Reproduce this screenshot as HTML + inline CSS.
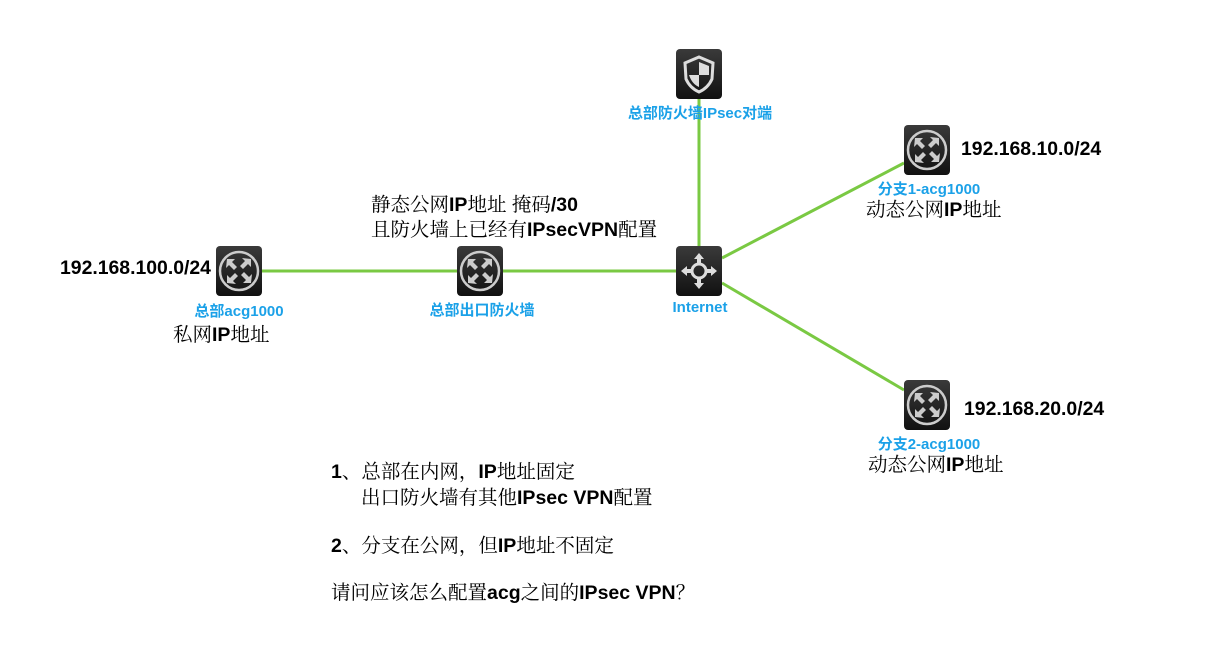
<!DOCTYPE html>
<html><head><meta charset="utf-8"><style>
body{margin:0;width:1213px;height:659px;background:#fff;position:relative;overflow:hidden;font-family:"Liberation Sans","Noto Serif CJK SC",serif;}
.t{position:absolute;font-size:19.5px;color:#000;white-space:nowrap;line-height:20px;}
.t b{font-family:"Liberation Sans",sans-serif;font-weight:bold;}
.ip{position:absolute;font-family:"Liberation Sans",sans-serif;font-weight:bold;font-size:19.4px;white-space:nowrap;}
.bl{position:absolute;color:#1ba1e8;font-weight:bold;font-size:15px;font-family:"Liberation Sans","Noto Sans CJK SC",sans-serif;white-space:nowrap;transform:translateX(-50%);}
.ic{position:absolute;width:46px;height:50px;border-radius:4px;background:linear-gradient(#3a3a3a,#111);}
</style></head><body>
<svg width="1213" height="659" style="position:absolute;left:0;top:0">
<g stroke="#7ac943" stroke-width="3" fill="none">
<line x1="262" y1="271" x2="676" y2="271"/>
<line x1="699" y1="99" x2="699" y2="246"/>
<line x1="722" y1="258" x2="904" y2="163"/>
<line x1="722" y1="283" x2="904" y2="390"/>
</g>
</svg>
<div class="ic" style="left:216px;top:246px"></div>
<div class="ic" style="left:457px;top:246px"></div>
<div class="ic" style="left:676px;top:246px"></div>
<div class="ic" style="left:676px;top:49px"></div>
<div class="ic" style="left:904px;top:125px"></div>
<div class="ic" style="left:904px;top:380px"></div>
<svg width="1213" height="659" style="position:absolute;left:0;top:0">
<defs><g id="sw"><circle cx="0" cy="0" r="19" fill="none" stroke="#ccc" stroke-width="2.5"/>
<g fill="#ccc"><path d="M-12,-12 l8,0 l-3,3 l5,5 l-3,3 l-5,-5 l-3,3z"/><path d="M12,-12 l0,8 l-3,-3 l-5,5 l-3,-3 l5,-5 l-3,-3z"/><path d="M-12,12 l0,-8 l3,3 l5,-5 l3,3 l-5,5 l3,3z"/><path d="M12,12 l-8,0 l3,-3 l-5,-5 l3,-3 l5,5 l3,-3z"/></g></g></defs>
<use href="#sw" x="239" y="271"/><use href="#sw" x="480" y="271"/><use href="#sw" x="927" y="150"/><use href="#sw" x="927" y="405"/>
<g transform="translate(699,271)" fill="#ddd" stroke="#ddd"><circle r="7" fill="none" stroke-width="3"/>
<path d="M0,-18 l-5,6 h3 v5 h4 v-5 h3z M0,18 l-5,-6 h3 v-5 h4 v5 h3z M-18,0 l6,-5 v3 h5 v4 h-5 v3z M18,0 l-6,-5 v3 h-5 v4 h5 v3z" stroke="none"/></g>
<g transform="translate(699,74)"><path d="M0,-17 L14,-11 L13,5 Q9,14 0,18 Q-9,14 -13,5 L-14,-11Z" fill="none" stroke="#ddd" stroke-width="3"/>
<path d="M0,-12 L10,-8 L10,1 L0,1Z M0,1 L-10,1 Q-7,10 0,13Z" fill="#ddd"/></g>
</svg>
<div class="ip" style="left:60px;top:257px">192.168.100.0/24</div>
<div class="ip" style="left:961px;top:138px">192.168.10.0/24</div>
<div class="ip" style="left:964px;top:398px">192.168.20.0/24</div>
<div class="bl" style="left:239px;top:300px">总部acg1000</div>
<div class="bl" style="left:482px;top:299px">总部出口防火墙</div>
<div class="bl" style="left:700px;top:299px">Internet</div>
<div class="bl" style="left:700px;top:102px">总部防火墙IPsec对端</div>
<div class="bl" style="left:929px;top:178px">分支1-acg1000</div>
<div class="bl" style="left:929px;top:433px">分支2-acg1000</div>
<div class="t" style="left:173px;top:325px">私网<b>IP</b>地址</div>
<div class="t" style="left:866px;top:200px">动态公网<b>IP</b>地址</div>
<div class="t" style="left:868px;top:455px">动态公网<b>IP</b>地址</div>
<div class="t" style="left:371px;top:195px">静态公网<b>IP</b>地址 掩码<b>/30</b></div>
<div class="t" style="left:371px;top:220px">且防火墙上已经有<b>IPsecVPN</b>配置</div>
<div class="t" style="left:331px;top:462px"><b>1</b>、总部在内网，<b>IP</b>地址固定</div>
<div class="t" style="left:361px;top:488px">出口防火墙有其他<b>IPsec VPN</b>配置</div>
<div class="t" style="left:331px;top:536px"><b>2</b>、分支在公网，但<b>IP</b>地址不固定</div>
<div class="t" style="left:331px;top:583px">请问应该怎么配置<b>acg</b>之间的<b>IPsec VPN</b>？</div>
</body></html>
